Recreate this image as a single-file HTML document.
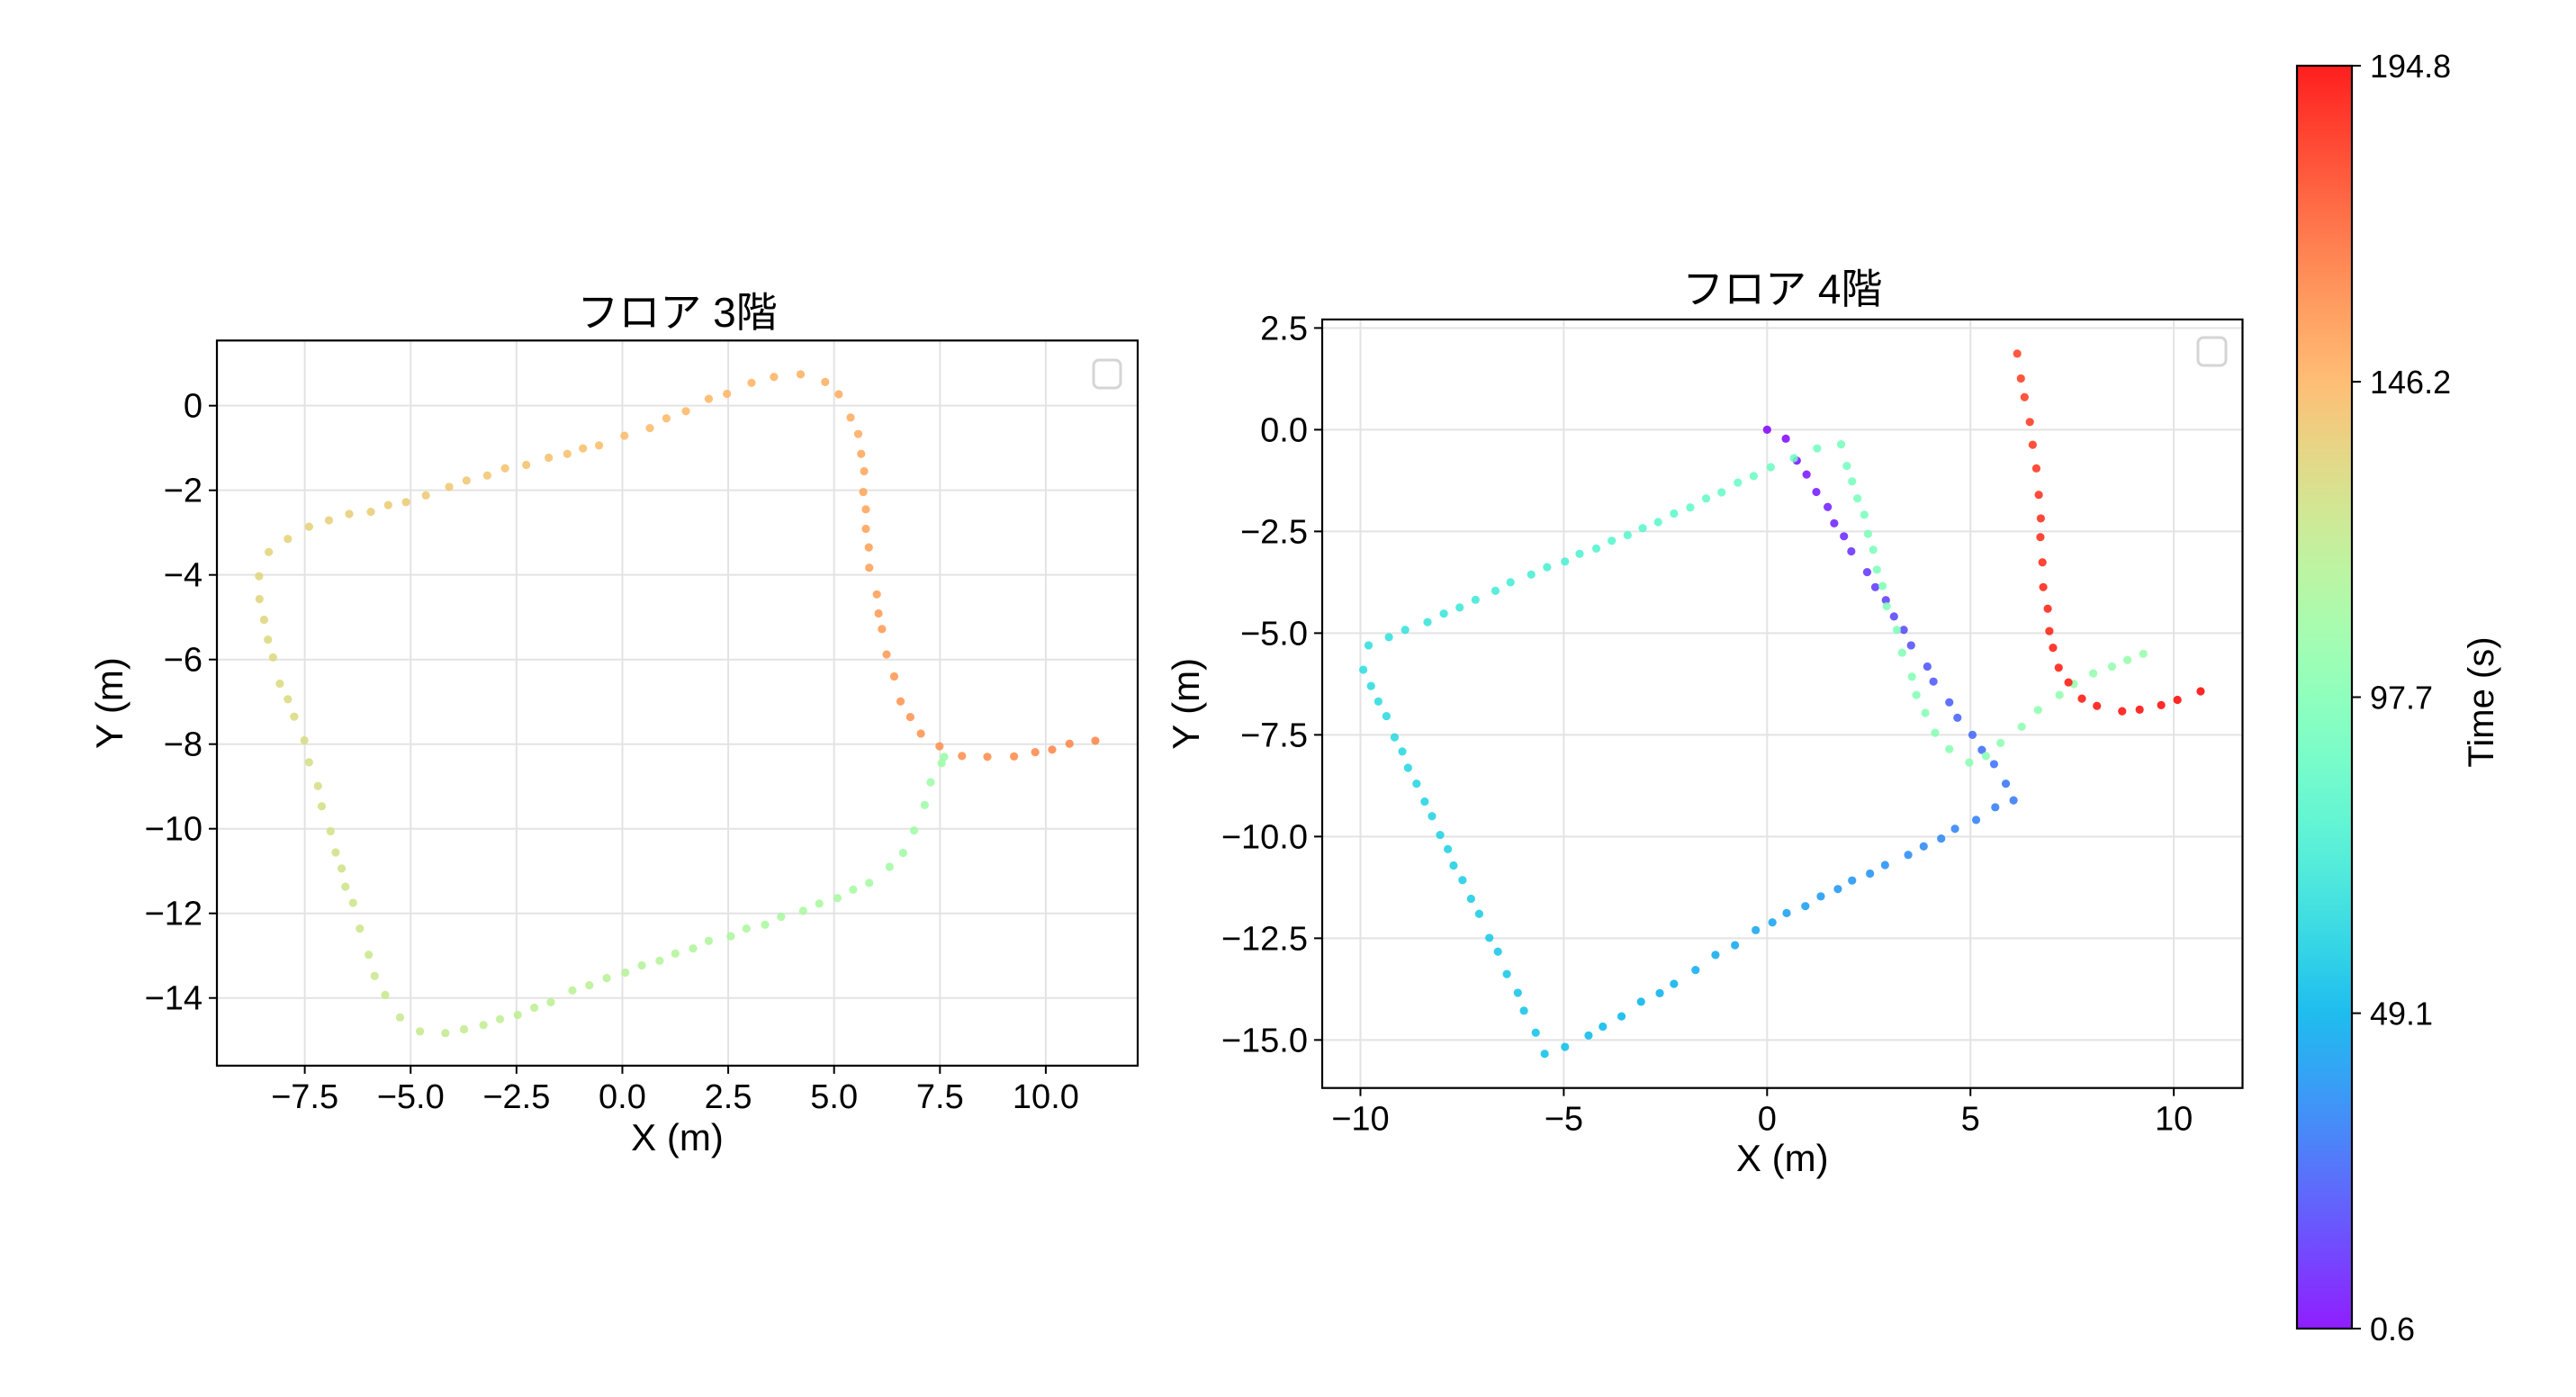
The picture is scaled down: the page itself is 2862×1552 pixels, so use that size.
<!DOCTYPE html>
<html><head><meta charset="utf-8"><style>
body{margin:0;background:#fff}
svg{display:block}
text{font-family:"Liberation Sans","Noto Sans CJK JP",sans-serif;fill:#000}
</style></head><body>
<svg id="fig" width="2862" height="1552" viewBox="0 0 2862 1552" xmlns="http://www.w3.org/2000/svg">
<defs><linearGradient id="cbg" x1="0" y1="1" x2="0" y2="0"></linearGradient></defs>
</svg>
<script>
// ---- Floor 3 data ----
const f3x=[7.60,7.54,7.28,7.14,6.89,6.63,6.31,5.83,5.45,5.08,4.65,4.27,3.75,3.37,2.93,2.56,2.04,1.67,1.25,0.88,0.46,0.07,-0.37,-0.78,-1.18,-1.69,-2.08,-2.47,-2.89,-3.28,-3.74,-4.18,-4.78,-5.25,-5.60,-5.85,-5.99,-6.20,-6.36,-6.54,-6.63,-6.77,-6.89,-7.10,-7.19,-7.40,-7.51,-7.75,-7.90,-8.09,-8.25,-8.37,-8.46,-8.57,-8.58,-8.35,-7.90,-7.40,-6.93,-6.45,-5.94,-5.53,-5.11,-4.64,-4.09,-3.68,-3.19,-2.77,-2.27,-1.74,-1.30,-0.93,-0.55,0.05,0.65,1.04,1.50,2.04,2.47,3.05,3.58,4.21,4.79,5.11,5.39,5.57,5.64,5.71,5.69,5.75,5.75,5.82,5.83,6.01,6.05,6.13,6.24,6.42,6.57,6.80,7.05,7.49,8.02,8.62,9.25,9.75,10.15,10.56,11.17];
const f3y=[-8.30,-8.45,-8.90,-9.44,-10.04,-10.57,-10.90,-11.28,-11.44,-11.64,-11.77,-11.94,-12.08,-12.27,-12.36,-12.54,-12.65,-12.83,-12.95,-13.12,-13.23,-13.40,-13.53,-13.70,-13.82,-14.10,-14.23,-14.40,-14.50,-14.64,-14.74,-14.83,-14.79,-14.46,-13.93,-13.48,-12.98,-12.36,-11.75,-11.37,-10.94,-10.56,-10.06,-9.47,-8.99,-8.43,-7.91,-7.35,-6.94,-6.57,-5.95,-5.53,-5.06,-4.57,-4.03,-3.46,-3.15,-2.86,-2.71,-2.56,-2.51,-2.35,-2.28,-2.12,-1.92,-1.77,-1.65,-1.48,-1.40,-1.23,-1.14,-1.01,-0.94,-0.71,-0.53,-0.30,-0.13,0.16,0.28,0.54,0.68,0.74,0.56,0.27,-0.28,-0.67,-1.14,-1.55,-2.04,-2.45,-2.91,-3.35,-3.83,-4.46,-4.91,-5.28,-5.88,-6.40,-6.99,-7.36,-7.75,-8.05,-8.28,-8.30,-8.29,-8.19,-8.13,-7.99,-7.92];
const f3t=[107.0,107.5,108.0,108.5,109.0,109.6,110.1,110.6,111.1,111.6,112.1,112.6,113.1,113.6,114.1,114.7,115.2,115.7,116.2,116.7,117.2,117.7,118.2,118.7,119.2,119.8,120.3,120.8,121.3,121.8,122.3,122.8,123.3,123.8,124.3,124.9,125.4,125.9,126.4,126.9,127.4,127.9,128.4,128.9,129.4,130.0,130.5,131.0,131.5,132.0,132.5,133.0,133.5,134.0,134.5,135.1,135.6,136.1,136.6,137.1,137.6,138.1,138.6,139.1,139.6,140.2,140.7,141.2,141.7,142.2,142.7,143.2,143.7,144.2,144.7,145.3,145.8,146.3,146.8,147.3,147.8,148.3,148.8,149.3,149.8,150.4,150.9,151.4,151.9,152.4,152.9,153.4,153.9,154.4,154.9,155.5,156.0,156.5,157.0,157.5,158.0,158.5,159.0,159.5,160.0,160.6,161.1,161.6,162.1];
// ---- Floor 4 data ----
const f4x=[0,0.46,0.73,0.97,1.21,1.49,1.65,1.89,2.07,2.46,2.66,2.92,3.12,3.36,3.54,3.94,4.09,4.48,4.68,5.05,5.28,5.58,5.87,6.06,
5.61,5.14,4.62,4.28,3.85,3.47,2.90,2.53,2.09,1.74,1.32,0.94,0.48,0.13,-0.28,-0.79,-1.27,-1.76,-2.29,-2.64,-3.10,-3.58,-4.04,-4.39,-4.97,-5.47,
-5.69,-5.98,-6.13,-6.40,-6.62,-6.83,-7.08,-7.28,-7.49,-7.71,-7.85,-8.04,-8.24,-8.42,-8.62,-8.83,-8.97,-9.16,-9.36,-9.56,-9.74,-9.93,
-9.80,-9.30,-8.90,-8.35,-7.95,-7.56,-7.17,-6.68,-6.31,-5.80,-5.41,-4.97,-4.61,-4.20,-3.82,-3.43,-3.06,-2.68,-2.29,-1.89,-1.50,-1.12,-0.72,-0.33,0.09,0.66,1.23,1.82,
1.96,2.09,2.22,2.39,2.48,2.61,2.70,2.84,2.94,3.19,3.32,3.56,3.67,3.89,4.13,4.48,4.97,5.38,5.74,6.26,6.66,7.19,7.54,8.02,8.48,8.86,9.25,
6.15,6.24,6.33,6.46,6.53,6.62,6.68,6.73,6.72,6.77,6.79,6.90,6.94,7.03,7.17,7.41,7.74,8.11,8.73,9.16,9.69,10.09,10.66];
const f4y=[0,-0.22,-0.76,-1.10,-1.53,-1.90,-2.30,-2.62,-2.99,-3.50,-3.87,-4.19,-4.59,-4.92,-5.30,-5.82,-6.19,-6.70,-7.08,-7.50,-7.87,-8.22,-8.70,-9.11,
-9.28,-9.59,-9.81,-10.05,-10.24,-10.45,-10.70,-10.91,-11.08,-11.29,-11.47,-11.71,-11.88,-12.11,-12.30,-12.67,-12.91,-13.28,-13.62,-13.85,-14.06,-14.42,-14.67,-14.89,-15.17,-15.34,
-14.82,-14.28,-13.84,-13.38,-12.83,-12.49,-11.90,-11.53,-11.07,-10.71,-10.31,-9.96,-9.50,-9.14,-8.70,-8.31,-7.91,-7.56,-7.04,-6.68,-6.30,-5.90,
-5.30,-5.10,-4.92,-4.73,-4.52,-4.37,-4.18,-3.96,-3.75,-3.56,-3.38,-3.24,-3.05,-2.92,-2.73,-2.59,-2.42,-2.27,-2.06,-1.91,-1.69,-1.54,-1.30,-1.14,-0.92,-0.70,-0.46,-0.36,
-0.89,-1.27,-1.69,-2.09,-2.56,-2.95,-3.44,-3.84,-4.34,-4.92,-5.48,-6.07,-6.52,-6.96,-7.45,-7.85,-8.18,-8.02,-7.70,-7.30,-6.89,-6.52,-6.25,-5.99,-5.82,-5.66,-5.51,
1.87,1.26,0.80,0.19,-0.37,-0.95,-1.60,-2.18,-2.64,-3.26,-3.87,-4.40,-4.95,-5.36,-5.85,-6.21,-6.61,-6.79,-6.92,-6.88,-6.77,-6.64,-6.43];
const f4t=[0.6,1.9,3.2,4.5,5.8,7.1,8.4,9.7,11.0,12.3,13.6,14.9,16.2,17.5,18.8,20.1,21.4,22.7,24.0,25.3,26.6,27.9,29.2,30.5,
31.5,32.4,33.2,34.1,34.9,35.8,36.7,37.5,38.4,39.2,40.1,41.0,41.8,42.7,43.5,44.4,45.3,46.1,47.0,47.8,48.7,49.6,50.4,51.3,52.1,53.0,
53.6,54.1,54.7,55.2,55.8,56.3,56.9,57.4,58.0,58.5,59.0,59.6,60.1,60.7,61.2,61.8,62.3,62.9,63.4,64.0,64.5,65.1,
65.6,66.6,67.6,68.5,69.5,70.5,71.5,72.5,73.4,74.4,75.4,76.4,77.4,78.3,79.3,80.3,81.3,82.3,83.2,84.2,85.2,86.2,87.2,88.1,89.1,90.1,91.1,92.1,
92.6,93.1,93.6,94.0,94.5,95.0,95.5,96.0,96.4,96.9,97.4,97.9,98.4,98.8,99.3,99.8,100.3,100.8,101.2,101.7,102.2,102.7,103.2,103.6,104.1,104.6,105.1,
180.0,180.7,181.3,182.0,182.7,183.4,184.0,184.7,185.4,186.1,186.7,187.4,188.1,188.7,189.4,190.1,190.8,191.4,192.1,192.8,193.4,194.1,194.8];
// ---- ticks ----
const f3XTicks=[-7.5,-5.0,-2.5,0.0,2.5,5.0,7.5,10.0];
const f3XLabels=["−7.5","−5.0","−2.5","0.0","2.5","5.0","7.5","10.0"];
const f3YTicks=[0,-2,-4,-6,-8,-10,-12,-14];
const f3YLabels=["0","−2","−4","−6","−8","−10","−12","−14"];
const f4XTicks=[-10,-5,0,5,10];
const f4XLabels=["−10","−5","0","5","10"];
const f4YTicks=[2.5,0,-2.5,-5,-7.5,-10,-12.5,-15];
const f4YLabels=["2.5","0.0","−2.5","−5.0","−7.5","−10.0","−12.5","−15.0"];
const cbTicks=[0.6,49.1,97.7,146.2,194.8];
const cbLabels=["0.6","49.1","97.7","146.2","194.8"];
const tMin=0.6,tMax=194.8;

const NS="http://www.w3.org/2000/svg";
const svg=document.getElementById('fig');
function mk(tag,attrs,parent){const e=document.createElementNS(NS,tag);for(const k in attrs)e.setAttribute(k,attrs[k]);(parent||svg).appendChild(e);return e;}
function rainbow(t){let v=(t-tMin)/(tMax-tMin);v=Math.max(0,Math.min(1,v));
 const r=Math.min(1,Math.abs(2*v-0.5)),g=Math.sin(Math.PI*v),b=Math.cos(Math.PI*v/2);
 return `rgb(${Math.round(r*255)},${Math.round(g*255)},${Math.round(b*255)})`;}
function lin(d0,d1,r0,r1){return v=>r0+(v-d0)*(r1-r0)/(d1-d0);}

function panel(cfg){
 const {name,L,R,T,B,xd,yd,xt,xl,yt,yl,xs,ys,tt,title,titleY,xlabY,ylabX,legend}=cfg;
 const sx=lin(xd[0],xd[1],L,R), sy=lin(yd[0],yd[1],B,T);
 const g=mk('g',{});
 
 
 xt.forEach((v,i)=>{const x=sx(v);
  const gl=mk('line',{x1:x,x2:x,y1:T,y2:B,stroke:'#e3e3e3','stroke-width':2},g);
  
  mk('line',{x1:x,x2:x,y1:B,y2:B+9,stroke:'#000','stroke-width':2},g);
  const tx=mk('text',{x:x,y:B+47,'text-anchor':'middle','font-size':38},g);tx.textContent=xl[i];
  });
 yt.forEach((v,i)=>{const y=sy(v);
  const gl=mk('line',{x1:L,x2:R,y1:y,y2:y,stroke:'#e3e3e3','stroke-width':2},g);
  
  mk('line',{x1:L-9,x2:L,y1:y,y2:y,stroke:'#000','stroke-width':2},g);
  const tx=mk('text',{x:L-16,y:y+13,'text-anchor':'end','font-size':38},g);tx.textContent=yl[i];
  });
 xs.forEach((v,i)=>{const c=mk('circle',{cx:sx(v),cy:sy(ys[i]),r:4.6,fill:rainbow(tt[i]),'fill-opacity':0.85},g);
  
  });
 const fr=mk('rect',{x:L,y:T,width:R-L,height:B-T,fill:'none',stroke:'#000','stroke-width':2.2},g);
 
 const lg=mk('rect',{x:legend[0],y:legend[1],width:legend[2],height:legend[3],rx:6,fill:'#fff',stroke:'#d5d5d5','stroke-width':3},g);
 
 const ti=mk('text',{x:(L+R)/2,y:titleY,'text-anchor':'middle','font-size':46},g);ti.textContent=title;
 
 const xlab=mk('text',{x:(L+R)/2,y:xlabY,'text-anchor':'middle','font-size':42},g);xlab.textContent='X (m)';
 
 const ylab=mk('text',{x:ylabX,y:(T+B)/2,'text-anchor':'middle','font-size':42,transform:`rotate(-90 ${ylabX} ${(T+B)/2})`},g);ylab.textContent='Y (m)';
 
}
panel({name:'floor3',L:241,R:1264,T:378.3,B:1183.9,xd:[-9.575,12.17],yd:[-15.6,1.54],xt:f3XTicks,xl:f3XLabels,yt:f3YTicks,yl:f3YLabels,xs:f3x,ys:f3y,tt:f3t,title:'フロア 3階',titleY:363,xlabY:1278,ylabX:136,legend:[1215,400,30,31]});
panel({name:'floor4',L:1469,R:2491.5,T:354.9,B:1208.7,xd:[-10.94,11.69],yd:[-16.18,2.71],xt:f4XTicks,xl:f4XLabels,yt:f4YTicks,yl:f4YLabels,xs:f4x,ys:f4y,tt:f4t,title:'フロア 4階',titleY:337,xlabY:1301,ylabX:1332,legend:[2442,375,31,31]});

// colorbar
const grad=document.getElementById('cbg');
for(let i=0;i<=20;i++){const t=tMin+(tMax-tMin)*i/20;mk('stop',{offset:(i/20),'stop-color':rainbow(t),'stop-opacity':0.88},grad);}
const cbT=73,cbB=1476,cbL=2552,cbR=2613;
const cy=lin(tMin,tMax,cbB,cbT);
const cb=mk('rect',{x:cbL,y:cbT,width:cbR-cbL,height:cbB-cbT,fill:'url(#cbg)',stroke:'#000','stroke-width':2.2});


cbTicks.forEach((v,i)=>{const y=cy(v);
 mk('line',{x1:cbR,x2:cbR+10,y1:y,y2:y,stroke:'#000','stroke-width':2});
 const tx=mk('text',{x:cbR+20,y:y+13,'font-size':36});tx.textContent=cbLabels[i];
 
 });
const cl=mk('text',{x:2770,y:780,'text-anchor':'middle','font-size':40,transform:'rotate(-90 2770 780)'});
cl.textContent='Time (s)';


</script>
</body></html>
